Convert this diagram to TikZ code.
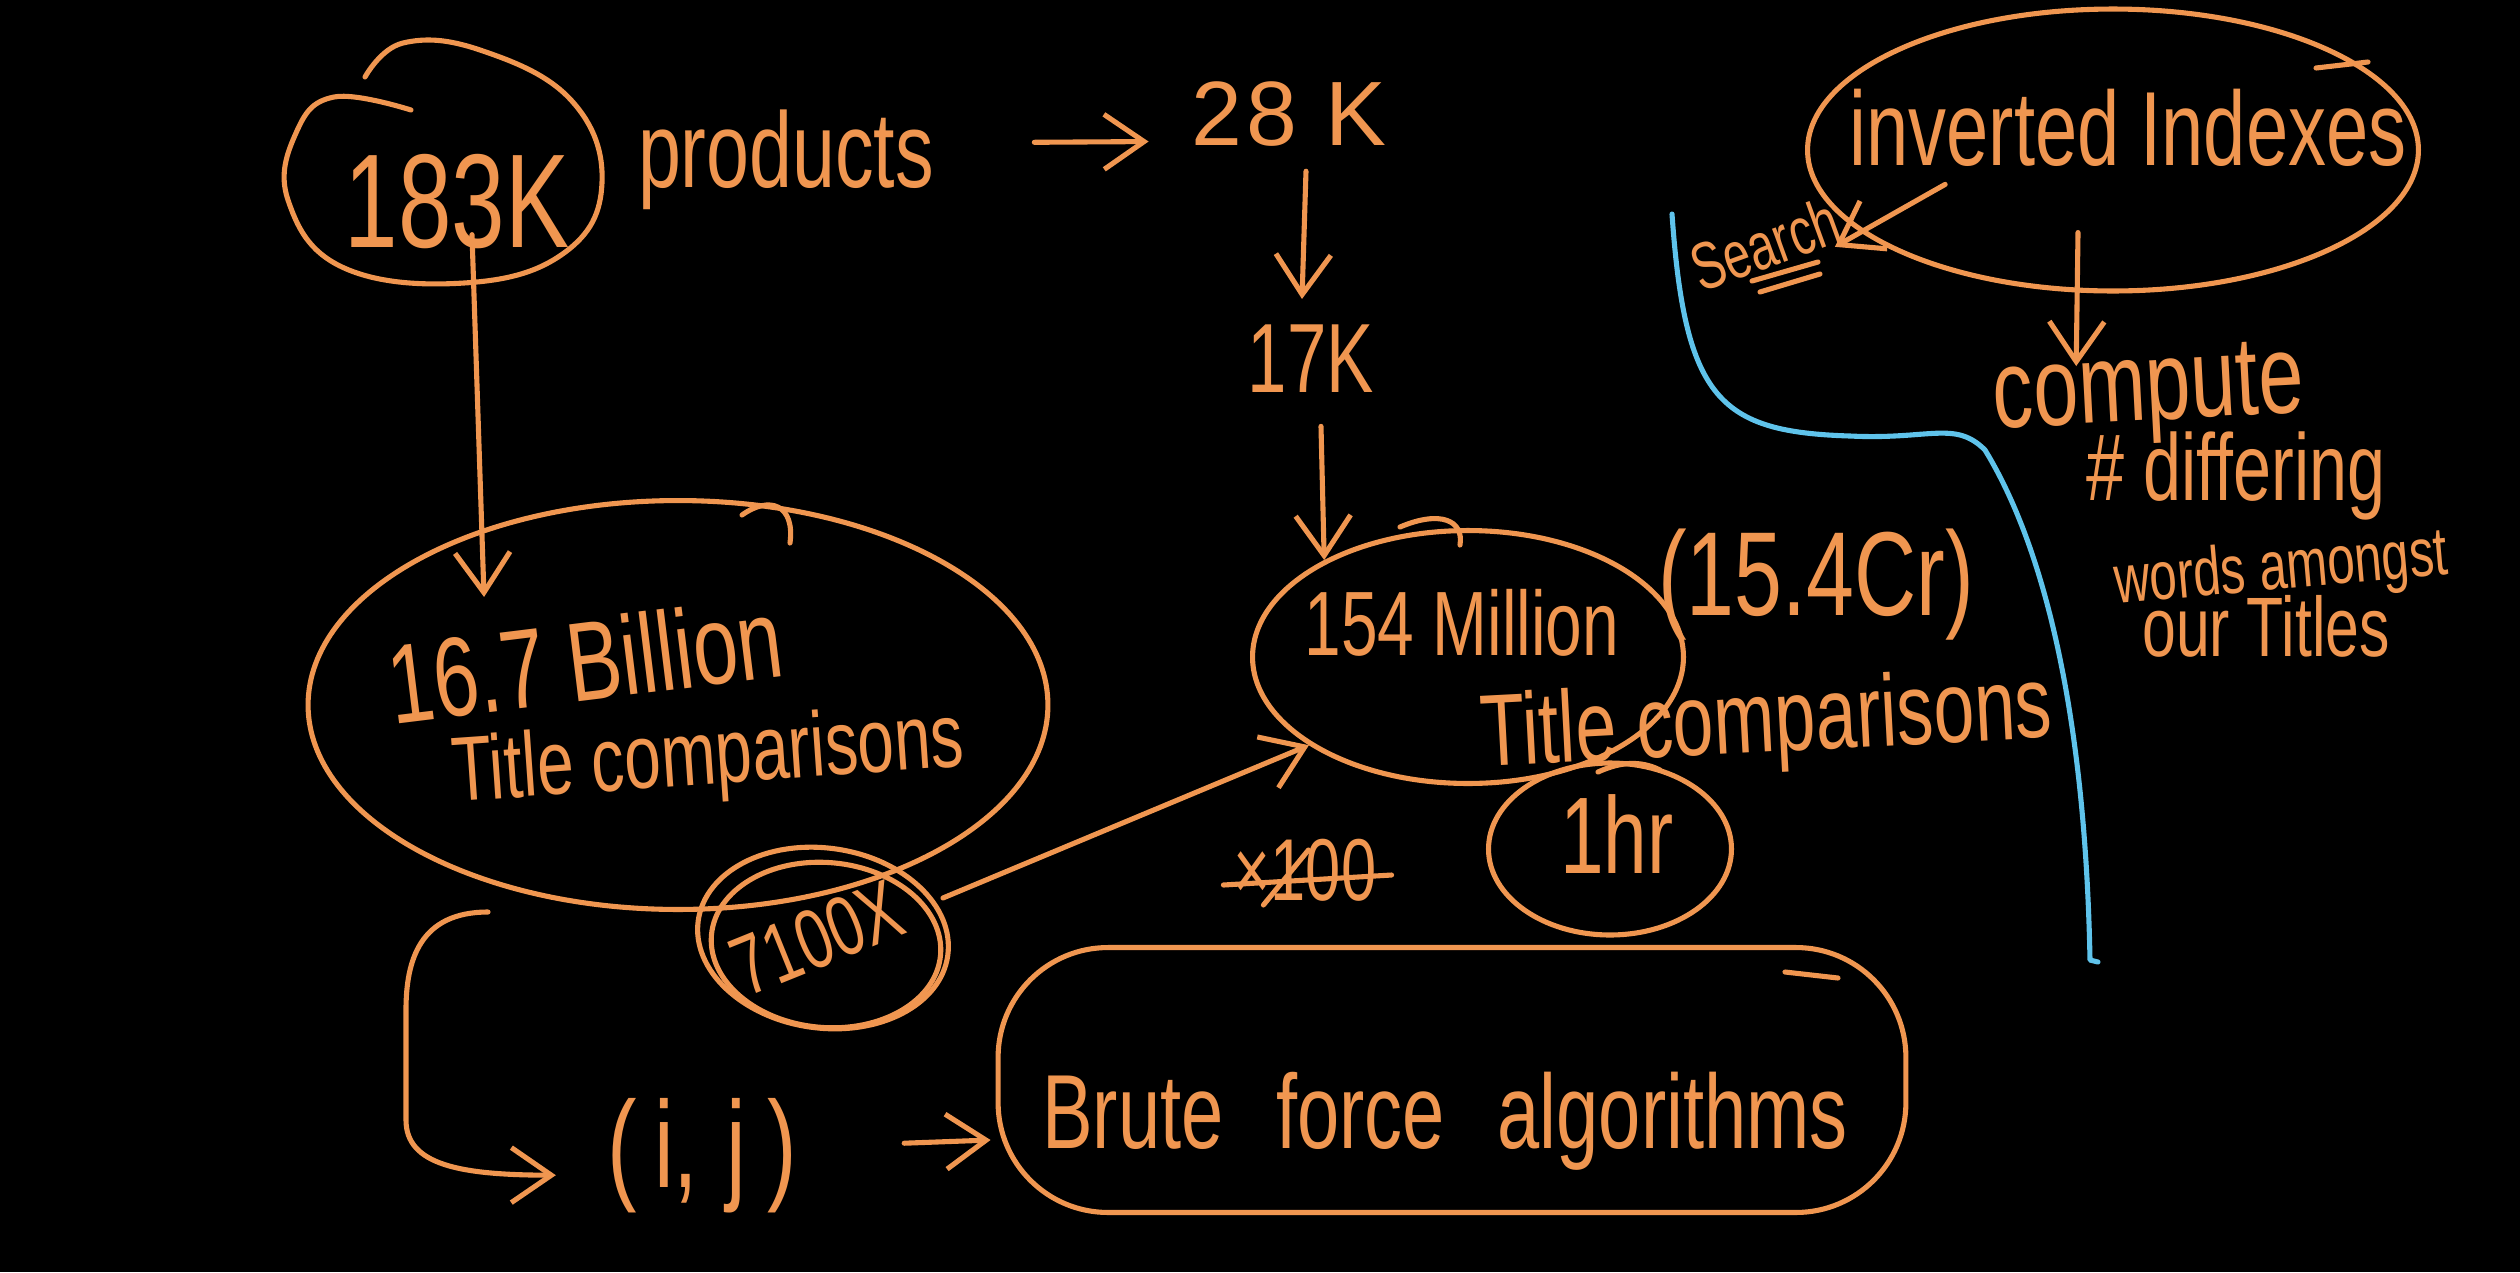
\documentclass[tikz,border=0pt]{standalone}
\usepackage{fontspec}
\newfontfamily\hand[FakeStretch=0.72]{Liberation Sans}
\newfontfamily\handw{Liberation Sans}
\usetikzlibrary{arrows.meta,shapes.geometric}
\newcommand\hsz[1]{\fontsize{#1pt}{#1pt}\selectfont}
\definecolor{org}{RGB}{240,150,80}
\definecolor{sky}{RGB}{95,195,235}
\begin{document}
\begin{tikzpicture}[x=0.02cm,y=-0.02cm,
  line cap=round, line join=round,
  ink/.style={draw=org, line width=2.9pt},
  blob/.style={ink, ellipse, inner sep=0pt},
  txt/.style={text=org, inner sep=0pt, anchor=base},
  rtxt/.style={text=org, inner sep=0pt},
  arr/.style={ink, -{Straight Barb[length=0.8cm,width=1.1cm]}},
]
\fill[black] (0,0) rectangle (2520,1272);
\useasboundingbox (0,0) rectangle (2520,1272);

% ---- texts
\node[txt, font=\hand\hsz{76}] (t183) at (457,247) {183K};
\node[txt, font=\hand\hsz{61}] (prod) at (786,187) {products};
\node[txt, font=\handw\hsz{52}] (t28) at (1289,145) {2\kern2pt8\kern16pt K};
\node[txt, font=\hand\hsz{56}] (t17) at (1311,392) {17K};
\node[txt, font=\hand\hsz{64}, rotate=7] (t167) at (590,700) {16.7 Billion};
\node[txt, font=\hand\hsz{52}, rotate=4] (tc1) at (710,784) {Title comparisons};
\node[txt, font=\hand\hsz{52}] (t154) at (1462,655) {154 Million};
\node[txt, font=\hand\hsz{68}] (tcr) at (1816,615) {(15.4Cr)};
\node[txt, font=\hand\hsz{58}, rotate=3] (tc2) at (1768,752) {Title comparisons};
\node[txt, font=\hand\hsz{62}] (t1hr) at (1617,873) {1hr};
\node[txt, font=\hand\hsz{50}] (tx) at (1305,900) {×100};
\node[rtxt, font=\hand\hsz{48}, rotate=22] (t7) at (817,938) {7100X};
\node[txt, font=\hand\hsz{70}] (tij) at (702,1187) {(\kern10pt i,\kern16pt j\kern12pt)};
\node[txt, font=\hand\hsz{60}] (tbf) at (1445,1148) {Brute\hspace{30pt}force\hspace{30pt}algorithms};
\node[txt, font=\hand\hsz{60}] (tinv) at (2128,165) {inverted Indexes};
\node[rtxt, font=\hand\hsz{38}, rotate=20] (tsr) at (1765,244) {Search};
\node[txt, font=\hand\hsz{64}, rotate=3] (tcmp) at (2150,420) {compute};
\node[txt, font=\hand\hsz{54}] (tdif) at (2236,500) {\# differing};
\node[txt, font=\hand\hsz{39}, rotate=5] (twd) at (2283,589) {words amongst};
\node[txt, font=\hand\hsz{48}] (tour) at (2266,656) {our Titles};

% ---- outlines
\draw[ink] plot[smooth, tension=0.7] coordinates {(411,110) (334,97) (296,133) (288,200) (342,267) (464,283) (564,253) (602,183) (571,100) (480,50) (403,43) (365,77)};
\node[blob, minimum width=14.8cm, minimum height=8.18cm] (eBig) at (678,705) {};
\node[blob, minimum width=8.62cm, minimum height=5.06cm] (e154) at (1468,657) {};
\node[blob, minimum width=4.86cm, minimum height=3.44cm] (e1hr) at (1610,849) {};
\node[blob, minimum width=5.04cm, minimum height=3.6cm, rotate=-8] (e7a) at (823,938) {};
\node[blob, minimum width=4.6cm, minimum height=3.3cm, rotate=-5] (e7b) at (826,945) {};
\node[ink, rectangle, rounded corners=2.2cm, minimum width=18.16cm, minimum height=5.3cm, inner sep=0pt] (ebf) at (1452,1080) {};
\node[blob, minimum width=12.22cm, minimum height=5.64cm] (einv) at (2113,150) {};

% ---- small pen flourishes on the outlines
\draw[ink] (742,515) .. controls (770,495) and (795,505) .. (790,543);
\draw[ink] (1400,527) .. controls (1440,510) and (1464,520) .. (1460,545);
\draw[ink] (1785,972) -- (1838,978);
\draw[ink] (1598,772) .. controls (1620,762) and (1640,760) .. (1660,770);
\draw[ink] (2316,68) -- (2368,62);

% ---- strike-through of x100
\draw[ink] ([xshift=-0.2cm,yshift=0.3cm]tx.base west) -- ([xshift=0.3cm,yshift=0.5cm]tx.base east);
\draw[ink] ([xshift=0.6cm,yshift=-0.1cm]tx.base west) -- ([xshift=1.5cm,yshift=1.0cm]tx.base west);

% ---- connectors
\draw[arr] ([xshift=2cm,yshift=0.34cm]prod.east) -- ([xshift=-0.86cm,yshift=-0.56cm]t28.west);
\draw[arr] ([xshift=0.34cm,yshift=-0.5cm]t28.south) -- ([xshift=-0.18cm,yshift=0.5cm]t17.north);
\draw[arr] ([xshift=0.2cm,yshift=-0.68cm]t17.south) -- (e154.146);
\draw[arr] ([xshift=0.3cm,yshift=0.28cm]t183.south) -- ([xshift=-3.88cm,yshift=-1.98cm]eBig.north);
\draw[arr] ([xshift=0.2cm]e7a.28) -- (e154.209);
\draw[arr] ([xshift=2.14cm,yshift=0.24cm]tij.east) -- ([xshift=-0.1cm,yshift=-1.2cm]ebf.west);
\draw[arr] ([xshift=-3.8cm]eBig.south) .. controls (420,912) and (406,960) .. (406,1010) -- (406,1120) .. controls (406,1165) and (460,1175) .. ([xshift=-1.02cm,yshift=-0.4cm]tij.west);
\draw[arr] ([xshift=-0.7cm,yshift=1.22cm]einv.south) -- ([xshift=-1.4cm,yshift=-0.38cm]tcmp.north);
\draw[arr] ([xshift=1.92cm,yshift=-0.36cm]tinv.south west) -- ([xshift=-0.04cm,yshift=-0.58cm]tsr.east);
\draw[ink] ([xshift=-0.26cm,yshift=-0.74cm]tsr.center) -- ++(66,-19);
\draw[ink] ([xshift=-0.1cm,yshift=-0.96cm]tsr.center) -- ++(60,-18);

% ---- blue divider
\draw[sky, line width=2.9pt] (1672,214) .. controls (1685,400) and (1720,432) .. (1850,436) .. controls (1930,440) and (1955,420) .. (1985,450) .. controls (2040,540) and (2085,700) .. (2090,960) -- (2098,962);
\end{tikzpicture}
\end{document}
